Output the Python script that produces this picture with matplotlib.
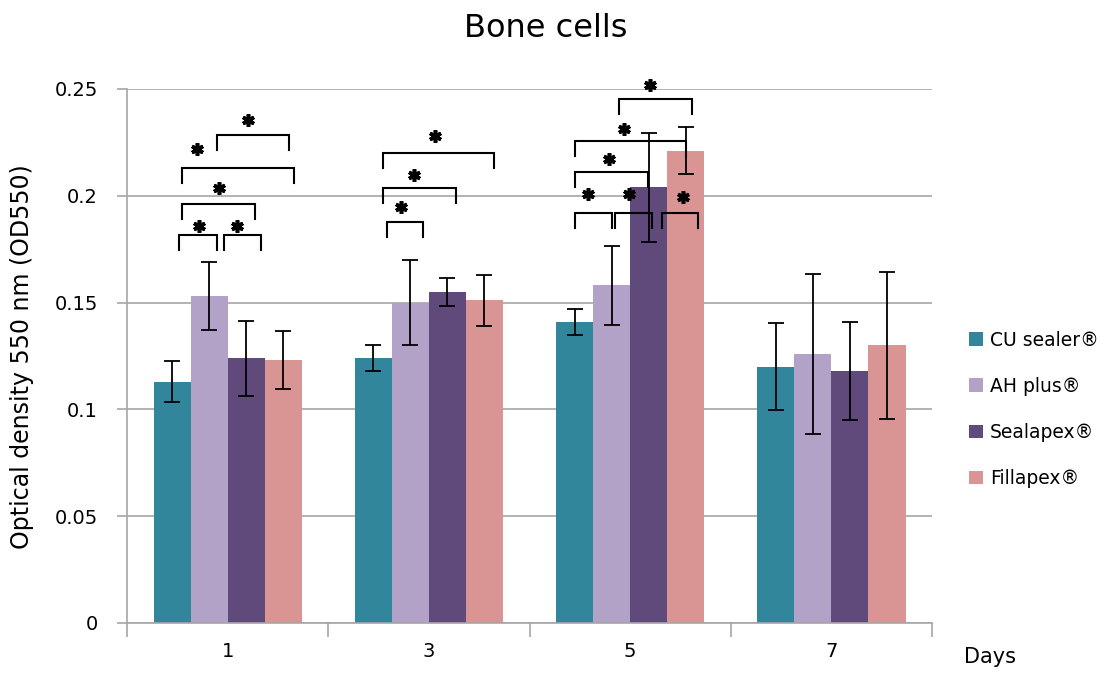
import numpy as np
import matplotlib.pyplot as plt

days = ["1", "3", "5", "7"]
series = ["CU sealer®", "AH plus®", "Sealapex®", "Fillapex®"]
colors = ["#31869B", "#B3A2C7", "#604A7B", "#D99594"]

cu_sealer = [0.113, 0.124, 0.141, 0.120]
ah_plus = [0.153, 0.150, 0.158, 0.126]
sealapex = [0.124, 0.155, 0.204, 0.118]
fillapex = [0.123, 0.151, 0.221, 0.130]

cu_err = [0.0095, 0.006, 0.006, 0.0205]
ah_err = [0.016, 0.020, 0.0185, 0.0375]
sea_err = [0.0175, 0.0065, 0.0255, 0.023]
fil_err = [0.0135, 0.012, 0.011, 0.0345]

# significance brackets: day index, left / right end (in bar units from group edge), height
brackets = [
    (0, 1.70, 3.65, 0.2285), (0, 0.76, 3.78, 0.213), (0, 0.76, 2.73, 0.196),
    (0, 0.70, 1.70, 0.1816), (0, 1.89, 2.89, 0.1816),
    (1, 0.76, 3.76, 0.220), (1, 0.76, 2.73, 0.2037), (1, 0.86, 1.84, 0.1877),
    (2, 1.70, 3.68, 0.2453), (2, 0.51, 3.51, 0.2257), (2, 0.51, 2.49, 0.2111),
    (2, 0.51, 1.51, 0.192), (2, 1.59, 2.59, 0.192), (2, 2.86, 3.84, 0.192),
]
# asterisks: day index, x (bar units from group edge), height
stars = [
    (0, 2.54, 0.2355), (0, 1.16, 0.222), (0, 1.78, 0.2037), (0, 1.22, 0.186), (0, 2.24, 0.186),
    (1, 2.16, 0.228), (1, 1.59, 0.2097), (1, 1.24, 0.1948),
    (2, 2.54, 0.2519), (2, 1.84, 0.2313), (2, 1.43, 0.2172), (2, 0.86, 0.2008),
    (2, 1.97, 0.2008), (2, 3.43, 0.1994),
]

values = [cu_sealer, ah_plus, sealapex, fillapex]
errors = [cu_err, ah_err, sea_err, fil_err]

fig = plt.figure(figsize=(11.07, 6.73), dpi=100)
ax = fig.add_axes([0.1147, 0.0743, 0.7273, 0.7935])

x = np.arange(len(days))
w = 0.184
grid_col = "#A6A6A6"

for i in range(len(series)):
    pos = x + (i - 1.5) * w
    ax.bar(pos, values[i], width=w, color=colors[i], label=series[i], zorder=2)
    ax.errorbar(pos, values[i], yerr=errors[i], fmt="none", ecolor="black",
                elinewidth=1.3, capsize=6, capthick=1.3, zorder=3)

leg_h = 0.007
for d, a, b, h in brackets:
    left = x[d] - 2 * w
    xa = left + a * w
    xb = left + b * w
    ax.plot([xa, xa, xb, xb], [h - leg_h, h, h, h - leg_h], color="black", lw=1.5, zorder=4,
            solid_joinstyle="miter")

star_x = [x[d] - 2 * w + s * w for d, s, h in stars]
star_y = [h for d, s, h in stars]
ax.plot(star_x, star_y, ls="none", marker=(6, 2, 0), markersize=9, mew=2.6,
        color="black", zorder=5, clip_on=False)

ax.set_xlim(-0.5, 3.5)
ax.set_ylim(0, 0.25)
ax.set_yticks([0, 0.05, 0.1, 0.15, 0.2, 0.25])
ax.set_yticklabels(["0", "0.05", "0.1", "0.15", "0.2", "0.25"])
ax.yaxis.grid(True, color=grid_col, lw=1.2, zorder=0)
ax.set_axisbelow(True)

ax.set_xticks(np.arange(-0.5, 4.0, 1.0))
ax.set_xticklabels([])
ax.set_xticks(x, minor=True)
ax.set_xticklabels(days, minor=True)
ax.tick_params(axis="x", which="major", length=10, width=1.2, color=grid_col, direction="out")
ax.tick_params(axis="x", which="minor", length=0, pad=14, labelsize=14)
ax.tick_params(axis="y", length=7, width=1.2, color=grid_col, direction="out", labelsize=14, pad=14)

for sp in ["top", "right"]:
    ax.spines[sp].set_visible(False)
for sp in ["left", "bottom"]:
    ax.spines[sp].set_color(grid_col)
    ax.spines[sp].set_linewidth(1.2)

ax.set_ylabel("Optical density 550 nm (OD550)", fontsize=17)
ax.yaxis.set_label_coords(-0.115, 0.498)
fig.text(0.493, 0.958, "Bone cells", ha="center", va="center", fontsize=23)
fig.text(0.894, 0.024, "Days", ha="center", va="center", fontsize=15)

ax.legend(loc="center left", bbox_to_anchor=(1.025, 0.40), frameon=False, fontsize=13.5,
          handlelength=0.75, handleheight=0.75, labelspacing=1.45, handletextpad=0.35)

fig.savefig("out.png", dpi=100)
